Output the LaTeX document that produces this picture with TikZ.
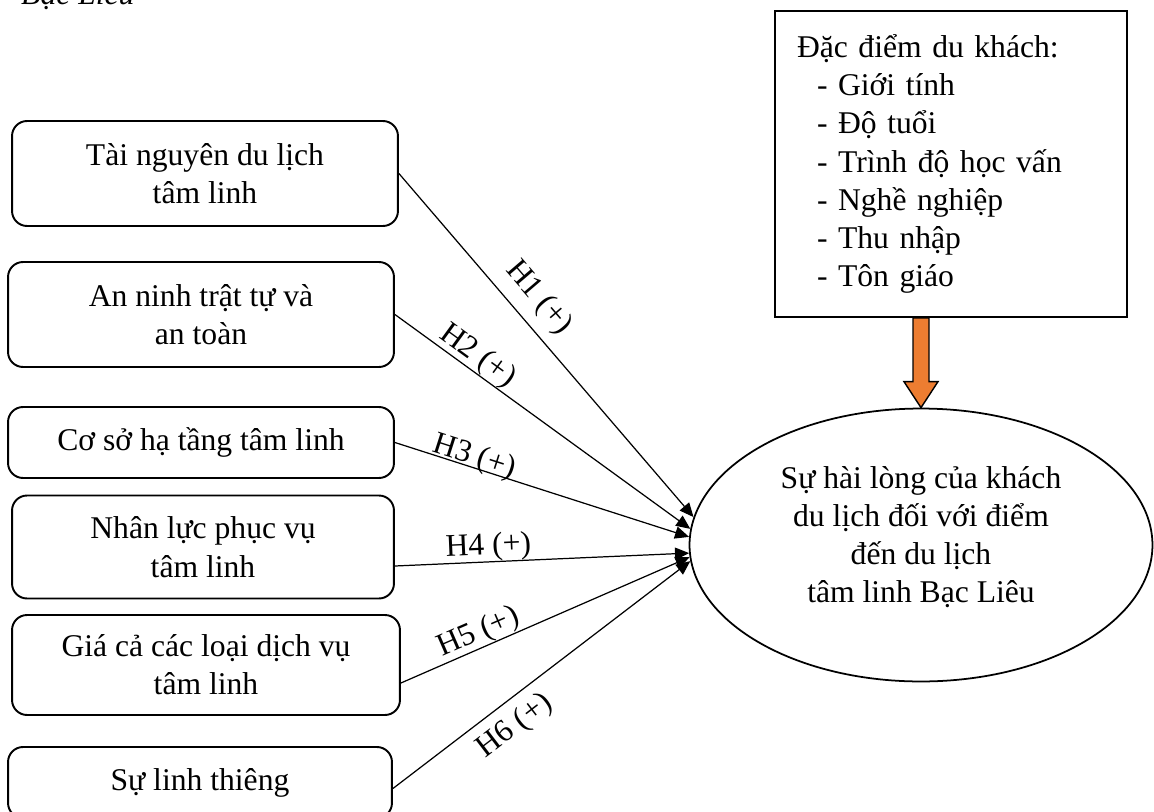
\documentclass[tikz,border=0pt]{standalone}
\usepackage{fontspec}
\setmainfont{Liberation Serif}
\usetikzlibrary{arrows.meta,shapes.geometric,calc}
\definecolor{flow}{RGB}{237,125,49}

\begin{document}
\begin{tikzpicture}[x=0.02cm,y=-0.02cm]
        \tikzstyle{every node}=[font=\fontsize{18}{21.8}\selectfont]
        \tikzstyle{factor}=[draw,rounded corners=0.3cm,line width=1.1pt,align=center,inner sep=0pt]
        \tikzstyle{hyp}=[line width=0.7pt,-{Triangle[length=8pt,width=7pt]}]
        \tikzstyle{tag}=[sloped,inner sep=0pt]
        \useasboundingbox (0,0) rectangle (1154,812);
        \node[anchor=base west,font=\itshape\fontsize{18}{21.8}\selectfont] (cap) at (15,4) {Bạc Liêu};
        % factors
        \node[factor,minimum width=7.72cm,minimum height=2.1cm] (tn) at (205,173.5) {Tài nguyên du lịch\\tâm linh};
        \node[factor,minimum width=7.72cm,minimum height=2.1cm] (an) at (201,314.5) {An ninh trật tự và\\an toàn};
        \node[factor,minimum width=7.72cm,minimum height=1.42cm] (cs) at (201,442.5) {Cơ sở hạ tầng tâm linh};
        \node[factor,minimum width=7.64cm,minimum height=2.06cm] (nl) at (203,547) {Nhân lực phục vụ\\tâm linh};
        \node[factor,minimum width=7.76cm,minimum height=2cm] (gc) at (206,665) {Giá cả các loại dịch vụ\\tâm linh};
        \node[factor,minimum width=7.68cm,minimum height=1.42cm] (lt) at (200,782.5) {Sự linh thiêng};
        % satisfaction
        \node[draw,ellipse,line width=1pt,minimum width=9.26cm,minimum height=5.46cm,inner sep=0pt,align=center] (goal) at (921,545)
                {Sự hài lòng của khách\\du lịch đối với điểm\\đến du lịch\\tâm linh Bạc Liêu\rule[-0.42cm]{0pt}{0pt}};
        % visitor profile
        \node[draw,line width=1pt,minimum height=6.12cm,inner xsep=0.44cm,text width=6.16cm,align=left] (prof) at (951,164) {Đặc điểm du khách:\\
                \hspace*{0.4cm}- Giới tính\\ \hspace*{0.4cm}- Độ tuổi\\ \hspace*{0.4cm}- Trình độ học vấn\\
                \hspace*{0.4cm}- Nghề nghiệp\\ \hspace*{0.4cm}- Thu nhập\\ \hspace*{0.4cm}- Tôn giáo};
        \draw[line width=0.8pt,fill=flow] ($(prof.south -| goal.north)+(-8,0)$) -- ($(goal.north)+(-8,-26)$) -- ($(goal.north)+(-17,-26)$) -- (goal.north)
                -- ($(goal.north)+(17,-26)$) -- ($(goal.north)+(8,-26)$) -- ($(prof.south -| goal.north)+(8,0)$) -- cycle;
        % hypotheses
        \draw[hyp] (tn.east) -- node[tag,pos=0.41,above,inner sep=0.2cm] (h1) {H1 (+)} (goal.173);
        \draw[hyp] (an.east) -- node[tag,pos=0.25,above] (h2) {H2 (+)} (goal.176);
        \draw[hyp] (cs.east) -- node[tag,pos=0.26,above,yshift=-0.1cm] (h3) {H3 (+)} (goal.178);
        \draw[hyp] ([yshift=-0.38cm]nl.east) -- node[tag,pos=0.32,above] (h4) {H4 (+)} (goal.182);
        \draw[hyp] ([yshift=-0.36cm]gc.east) -- node[tag,pos=0.29,above] (h5) {H5 (+)} (goal.183);
        \draw[hyp] ([yshift=-0.12cm]lt.east) -- node[tag,pos=0.36,below,inner sep=0.2cm] (h6) {H6 (+)} (goal.184);
\end{tikzpicture}
\end{document}
